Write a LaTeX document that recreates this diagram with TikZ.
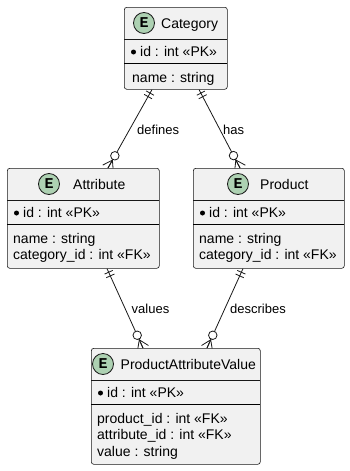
\documentclass[tikz,border=0pt]{standalone}
\usepackage{fontspec}
\setmainfont{Liberation Sans}
\newfontfamily\emono{Liberation Mono}
\usetikzlibrary{calc,backgrounds}

\definecolor{boxfill}{HTML}{F1F1F1}
\definecolor{ink}{HTML}{181818}
\definecolor{badgefill}{HTML}{ADD1B2}

\tikzset{
  entity/.style={draw=ink, line width=0.6pt, fill=boxfill, rounded corners=2.5pt, inner sep=0pt},
  hsep/.style={draw=ink, line width=0.6pt},
  dsep/.style={draw=black, line width=1pt},
  ebadge/.style={circle, draw=ink, line width=0.8pt, fill=badgefill, minimum size=21pt, inner sep=0pt,
    font=\emono\bfseries\fontsize{15}{15}\selectfont},
  ttl/.style={anchor=base west, inner sep=0pt, font=\fontsize{14}{16}\selectfont},
  fld/.style={anchor=base west, inner sep=0pt, font=\fontsize{14}{16}\selectfont},
  rlabel/.style={anchor=base west, inner sep=0pt, font=\fontsize{13}{15}\selectfont},
  conn/.style={draw=ink, line width=0.8pt},
  optcircle/.style={circle, draw=ink, fill=white, line width=0.8pt, minimum size=8.5pt, inner sep=0pt},
  pkdot/.style={circle, fill=black, inner sep=0pt, minimum size=5pt},
}

% entity box: #1 name, #2 left, #3 right, #4 top, #5 bottom, #6 badge x, #7 title x, #8 title
\newcommand\erbox[8]{%
  \node[entity, anchor=north west, minimum width={#3-#2}, minimum height={#5-#4}] (#1) at (#2,#4) {};
  \draw[hsep] (#2,#4+32) -- (#3,#4+32);
  \draw[dsep] (#2,#4+56) -- (#3,#4+56);
  \node[ebadge] (#1-badge) at (#6,#4+16) {E};
  \node[ttl] (#1-title) at (#7,#4+21) {#8};
  \node[pkdot] (#1-dot) at (#2+9.5,#4+45) {};
  \node[fld] (#1-id) at (#2+16,#4+49.5) {id : int «PK»};
}

% one-to-many link: #1 one end, #2 many end, #3 name
\newcommand\relate[3]{%
  \draw[conn] (#1) -- (#2);
  \draw[conn] ($(#1)!4pt!(#2)!4.5pt!90:(#2)$) -- ($(#1)!4pt!(#2)!4.5pt!-90:(#2)$);
  \draw[conn] ($(#1)!8pt!(#2)!4.5pt!90:(#2)$) -- ($(#1)!8pt!(#2)!4.5pt!-90:(#2)$);
  \draw[conn] ($(#2)!6pt!90:(#1)$) -- ($(#2)!9pt!(#1)$) -- ($(#2)!6pt!-90:(#1)$);
  \draw[conn] ($(#2)!9pt!(#1)$) -- (#2);
  \node[optcircle] (#3) at ($(#2)!14pt!(#1)$) {};
}

\begin{document}
\begin{tikzpicture}[x=1pt,y=-1pt]
\useasboundingbox (0,0) rectangle (350,471);

\erbox{cat}{124}{227}{7}{89}{144}{161}{Category}
\node[fld] (cat-name) at (132,82) {name : string};

\erbox{att}{7}{159}{168}{268}{49}{73}{Attribute}
\node[fld] (att-name) at (13,243) {name : string};
\node[fld] (att-cat) at (13,259.5) {category\_id : int «FK»};

\erbox{prod}{193}{344}{168}{268}{238}{260}{Product}
\node[fld] (prod-name) at (199,243) {name : string};
\node[fld] (prod-cat) at (199,259.5) {category\_id : int «FK»};

\erbox{pav}{91}{260}{348}{464}{103}{120.5}{ProductAttributeValue}
\node[fld] (pav-prod) at (97,423) {product\_id : int «FK»};
\node[fld] (pav-attr) at (97,439.5) {attribute\_id : int «FK»};
\node[fld] (pav-val) at (97,456) {value : string};

% link end points on the box edges
\coordinate (cat-d) at ($(cat.south west)+(28,0)$);
\coordinate (cat-h) at ($(cat.south west)+(75,0)$);
\coordinate (att-top) at ($(att.north west)+(101,0)$);
\coordinate (att-bot) at ($(att.south west)+(100,0)$);
\coordinate (prod-top) at ($(prod.north west)+(47,0)$);
\coordinate (prod-bot) at ($(prod.south west)+(50,0)$);
\coordinate (pav-a) at ($(pav.north west)+(52,0)$);
\coordinate (pav-p) at ($(pav.north west)+(116,0)$);

\begin{scope}[on background layer]
  \relate{cat-d}{att-top}{defines-o}
  \relate{cat-h}{prod-top}{has-o}
  \relate{att-bot}{pav-a}{values-o}
  \relate{prod-bot}{pav-p}{describes-o}
\end{scope}

\node[rlabel] (l-defines) at (137,134.5) {defines};
\node[rlabel] (l-has) at (223,134.5) {has};
\node[rlabel] (l-values) at (131.5,313.5) {values};
\node[rlabel] (l-describes) at (230,313.5) {describes};
\end{tikzpicture}
\end{document}
